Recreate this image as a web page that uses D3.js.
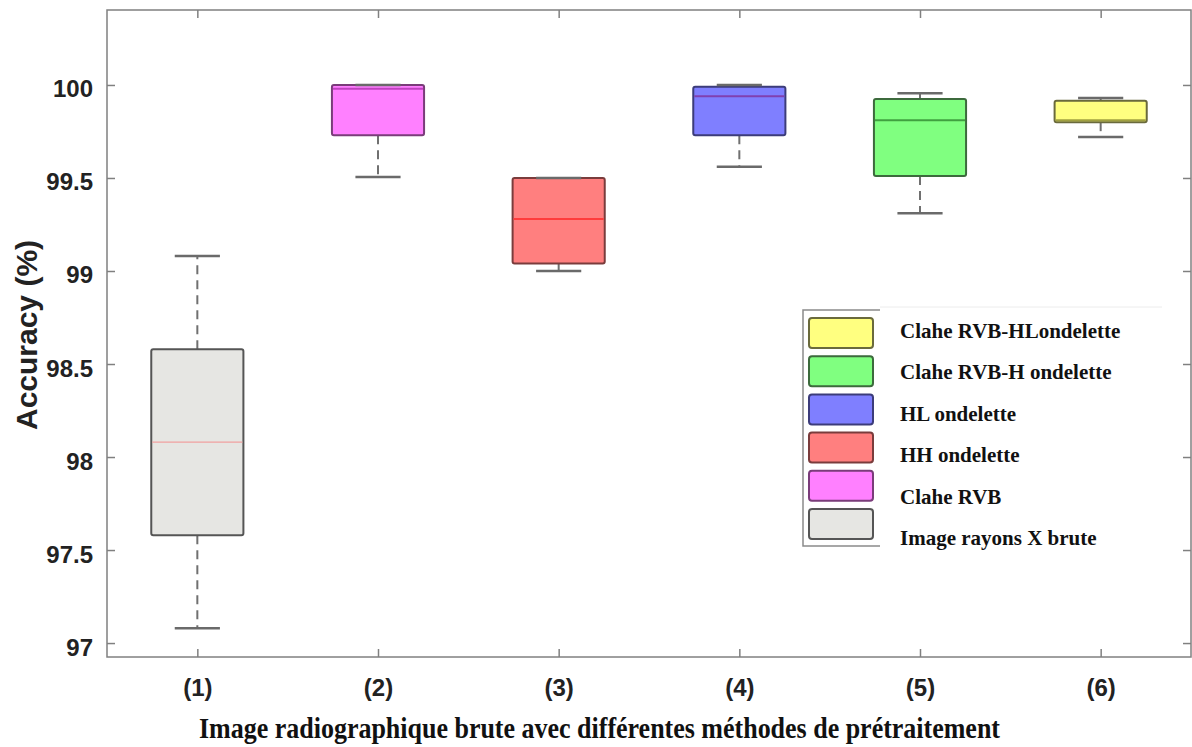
<!DOCTYPE html>
<html>
<head>
<meta charset="utf-8">
<script src="https://cdn.jsdelivr.net/npm/d3@7"></script>
<style>
  body { margin: 0; background: #fff; }
  svg { display: block; }
</style>
</head>
<body>
<svg id="chart" width="1192" height="747"></svg>
<script>
// box plot stats per method
const categories = ["(1)", "(2)", "(3)", "(4)", "(5)", "(6)"];
const whiskerLow = [97.08, 99.505, 99.00, 99.56, 99.31, 99.72];
const q1 = [97.58, 99.73, 99.04, 99.73, 99.51, 99.80];
const median = [98.08, 99.98, 99.28, 99.94, 99.81, 99.81];
const q3 = [98.58, 100.0, 99.50, 99.99, 99.925, 99.915];
const whiskerHigh = [99.08, 100.0, 99.50, 100.0, 99.955, 99.93];
const yTicks = [97, 97.5, 98, 98.5, 99, 99.5, 100];

const fills = ["#e6e6e3", "#ff80ff", "#ff7f7f", "#7f7fff", "#80ff80", "#ffff80"];
const edges = ["#555555", "#7a3c7a", "#7a3c3c", "#3c3c7a", "#3c6a3c", "#6a6a3c"];
const medianColors = ["#f0a0a0", "#c040c0", "#ff3c3c", "#8040b0", "#40a040", "#a0a040"];

// legend reads top to bottom
const legendLabels = [
  "Clahe RVB-HLondelette",
  "Clahe RVB-H ondelette",
  "HL ondelette",
  "HH ondelette",
  "Clahe RVB",
  "Image rayons X brute"
];
const legendOrder = [5, 4, 3, 2, 1, 0];

const svg = d3.select("#chart");
const sans = "'Liberation Sans', Arial, Helvetica, sans-serif";
const serif = "'Liberation Serif', 'Times New Roman', serif";

const m = { left: 107, right: 1191, top: 10, bottom: 657 };

const x = d3.scaleLinear().domain([0.5, 6.5]).range([m.left, m.right]);
const y = d3.scaleLinear().domain([96.925, 100.403]).range([m.bottom, m.top]);
const step = x(2) - x(1);
const boxW = step * 0.51;
const capW = step * 0.25;

const axisColor = "#808080";

// frame
svg.append("rect")
  .attr("x", m.left).attr("y", m.top)
  .attr("width", m.right - m.left).attr("height", m.bottom - m.top)
  .attr("fill", "none").attr("stroke", axisColor).attr("stroke-width", 1.5);

const catIdx = d3.range(1, 7);

function styleAxis(g) {
  g.select(".domain").remove();
  g.selectAll(".tick line").attr("stroke", axisColor).attr("stroke-width", 1.5);
}

// left axis with labels
svg.append("g")
  .attr("transform", `translate(${m.left},0)`)
  .call(d3.axisLeft(y).tickValues(yTicks).tickSize(-8).tickPadding(14).tickFormat(d => String(d)))
  .call(styleAxis)
  .call(g => g.selectAll("text")
    .attr("dy", "0.5em")
    .style("font-family", sans).style("font-size", "24px").style("font-weight", "bold")
    .attr("fill", "#222"));

// right axis ticks
svg.append("g")
  .attr("transform", `translate(${m.right},0)`)
  .call(d3.axisRight(y).tickValues(yTicks).tickSize(-8).tickFormat(""))
  .call(styleAxis);

// bottom axis
svg.append("g")
  .attr("transform", `translate(0,${m.bottom})`)
  .call(d3.axisBottom(x).tickValues(catIdx).tickSize(-8).tickPadding(22).tickFormat(d => categories[d - 1]))
  .call(styleAxis)
  .call(g => g.selectAll("text")
    .style("font-family", sans).style("font-size", "24px").style("font-weight", "bold")
    .attr("fill", "#222"));

// top axis ticks
svg.append("g")
  .attr("transform", `translate(0,${m.top})`)
  .call(d3.axisTop(x).tickValues(catIdx).tickSize(-8).tickFormat(""))
  .call(styleAxis);

// boxes
const boxes = svg.append("g");
categories.forEach((c, i) => {
  const cx = x(i + 1);
  const g = boxes.append("g");
  // whiskers
  g.append("line")
    .attr("x1", cx).attr("x2", cx)
    .attr("y1", y(q3[i])).attr("y2", y(whiskerHigh[i]))
    .attr("stroke", "#707070").attr("stroke-width", 2).attr("stroke-dasharray", "9,6");
  g.append("line")
    .attr("x1", cx).attr("x2", cx)
    .attr("y1", y(q1[i])).attr("y2", y(whiskerLow[i]))
    .attr("stroke", "#707070").attr("stroke-width", 2).attr("stroke-dasharray", "9,6");
  // box
  g.append("rect")
    .attr("x", cx - boxW / 2).attr("width", boxW)
    .attr("y", y(q3[i])).attr("height", y(q1[i]) - y(q3[i]))
    .attr("rx", 2)
    .attr("fill", fills[i]).attr("stroke", edges[i]).attr("stroke-width", 2);
  // median
  g.append("line")
    .attr("x1", cx - boxW / 2 + 1).attr("x2", cx + boxW / 2 - 1)
    .attr("y1", y(median[i])).attr("y2", y(median[i]))
    .attr("stroke", medianColors[i]).attr("stroke-width", i === 0 ? 1.2 : 2);
  // caps
  [whiskerLow[i], whiskerHigh[i]].forEach(v => {
    g.append("line")
      .attr("x1", cx - capW / 2).attr("x2", cx + capW / 2)
      .attr("y1", y(v)).attr("y2", y(v))
      .attr("stroke", "#6a6a6a").attr("stroke-width", 2.5);
  });
});

// legend
const lg = svg.append("g");
lg.append("rect")
  .attr("x", 803).attr("y", 310).attr("width", 300).attr("height", 236)
  .attr("fill", "#fff").attr("stroke", "#8a8a8a").attr("stroke-width", 1.5);
lg.append("rect")
  .attr("x", 880).attr("y", 307).attr("width", 282).attr("height", 245)
  .attr("fill", "#fff");
lg.append("line")
  .attr("x1", 880).attr("x2", 1162).attr("y1", 307).attr("y2", 307)
  .attr("stroke", "#ececec").attr("stroke-width", 1);

legendOrder.forEach((k, j) => {
  lg.append("rect")
    .attr("x", 809).attr("y", 318 + j * 38.2)
    .attr("width", 64).attr("height", 30).attr("rx", 3)
    .attr("fill", fills[k]).attr("stroke", edges[k]).attr("stroke-width", 2);
  lg.append("text")
    .attr("x", 900).attr("y", 338 + j * 41.4)
    .style("font-family", serif).style("font-size", "21px").style("font-weight", "bold")
    .attr("fill", "#111")
    .text(legendLabels[j]);
});

// y label
svg.append("text")
  .attr("transform", "translate(37,335) rotate(-90)")
  .attr("text-anchor", "middle")
  .style("font-family", sans).style("font-size", "30px").style("font-weight", "bold")
  .attr("fill", "#222")
  .text("Accuracy (%)");

// x title
svg.append("text")
  .attr("x", 199).attr("y", 738)
  .attr("textLength", 801).attr("lengthAdjust", "spacingAndGlyphs")
  .style("font-family", serif).style("font-size", "30px").style("font-weight", "bold")
  .attr("fill", "#111")
  .text("Image radiographique brute avec différentes méthodes de prétraitement");
</script>
</body>
</html>
